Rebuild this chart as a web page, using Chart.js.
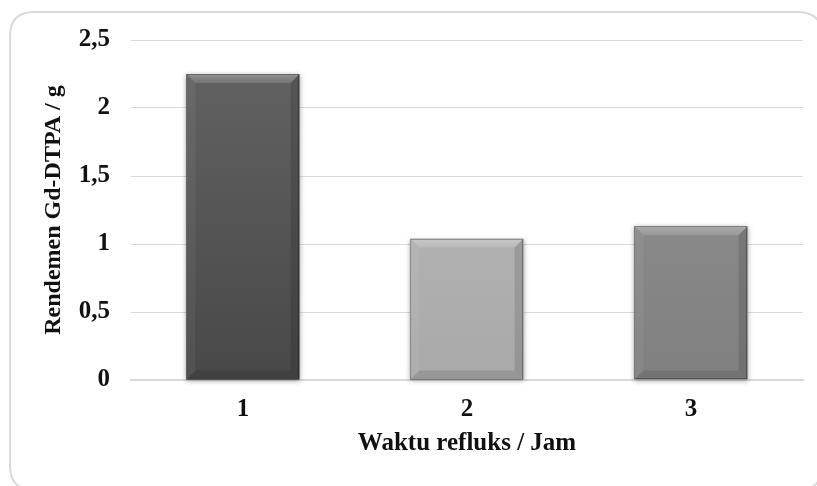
<!DOCTYPE html>
<html>
<head>
<meta charset="utf-8">
<script src="https://cdn.jsdelivr.net/npm/chart.js@4/dist/chart.umd.min.js"></script>
<style>
  html, body { margin: 0; padding: 0; background: #ffffff; }
  #wrap { width: 817px; height: 486px; position: relative; }
</style>
</head>
<body>
<div id="wrap"><canvas id="c" width="817" height="486"></canvas></div>
<script>
// Reflux time (hours) and Gd-DTPA yield (g)
const categories = ['1', '2', '3'];
const yields = [2.25, 1.04, 1.13];
const yTickValues = [0, 0.5, 1, 1.5, 2, 2.5];

// Bar fills: lighter top, darker bottom
const barTopColors = ['#646464', '#bcbcbc', '#939393'];
const barBottomColors = ['#484848', '#a9a9a9', '#808080'];

const serif = "'Liberation Serif', 'Times New Roman', serif";
const textFont = { family: serif, size: 25, weight: 'bold' };

function barGradient(ctx) {
  const chart = ctx.chart;
  const area = chart.chartArea;
  const i = ctx.dataIndex;
  if (!area || i === undefined) return barTopColors[0];
  const el = chart.getDatasetMeta(ctx.datasetIndex).data[i];
  const top = el && isFinite(el.y) ? el.y : area.top;
  const bottom = el && isFinite(el.base) ? el.base : area.bottom;
  const g = chart.ctx.createLinearGradient(0, top, 0, bottom);
  g.addColorStop(0, barTopColors[i]);
  g.addColorStop(1, barBottomColors[i]);
  return g;
}

// Rounded frame around the whole chart
const framePlugin = {
  id: 'frame',
  beforeDraw(chart) {
    const c = chart.ctx;
    c.save();
    c.strokeStyle = '#d9d9d9';
    c.lineWidth = 2;
    const x = 10, y = 12, w = 812, h = 478, r = 24;
    c.beginPath();
    c.moveTo(x + r, y);
    c.lineTo(x + w - r, y);
    c.quadraticCurveTo(x + w, y, x + w, y + r);
    c.lineTo(x + w, y + h - r);
    c.quadraticCurveTo(x + w, y + h, x + w - r, y + h);
    c.lineTo(x + r, y + h);
    c.quadraticCurveTo(x, y + h, x, y + h - r);
    c.lineTo(x, y + r);
    c.quadraticCurveTo(x, y, x + r, y);
    c.stroke();
    c.restore();
  }
};

// Soft shadow under each bar and a bevelled edge on top of it
const bevelPlugin = {
  id: 'bevel',
  beforeDatasetsDraw(chart) {
    const c = chart.ctx;
    const meta = chart.getDatasetMeta(0);
    c.save();
    meta.data.forEach((el) => {
      const w = el.width;
      c.shadowColor = 'rgba(0,0,0,0.35)';
      c.shadowBlur = 5;
      c.shadowOffsetX = 0;
      c.shadowOffsetY = 1;
      c.fillStyle = 'rgba(200,200,200,1)';
      c.fillRect(el.x - w / 2, el.y, w, el.base - el.y);
    });
    c.restore();
  },
  afterDatasetsDraw(chart) {
    const c = chart.ctx;
    const meta = chart.getDatasetMeta(0);
    meta.data.forEach((el) => {
      const l = el.x - el.width / 2, r = el.x + el.width / 2;
      const t = el.y, b = el.base;
      const s = 9;
      c.save();
      // top facet
      const gt = c.createLinearGradient(0, t, 0, t + s);
      gt.addColorStop(0, 'rgba(255,255,255,0.30)');
      gt.addColorStop(1, 'rgba(255,255,255,0.12)');
      c.fillStyle = gt;
      c.beginPath();
      c.moveTo(l, t); c.lineTo(r, t); c.lineTo(r - s, t + s); c.lineTo(l + s, t + s);
      c.closePath(); c.fill();
      // left facet
      c.fillStyle = 'rgba(255,255,255,0.05)';
      c.beginPath();
      c.moveTo(l, t); c.lineTo(l + s, t + s); c.lineTo(l + s, b - s); c.lineTo(l, b);
      c.closePath(); c.fill();
      // right facet
      c.fillStyle = 'rgba(0,0,0,0.12)';
      c.beginPath();
      c.moveTo(r, t); c.lineTo(r - s, t + s); c.lineTo(r - s, b - s); c.lineTo(r, b);
      c.closePath(); c.fill();
      // bottom facet
      c.fillStyle = 'rgba(0,0,0,0.10)';
      c.beginPath();
      c.moveTo(l, b); c.lineTo(l + s, b - s); c.lineTo(r - s, b - s); c.lineTo(r, b);
      c.closePath(); c.fill();
      // thin outline
      c.strokeStyle = 'rgba(0,0,0,0.28)';
      c.lineWidth = 1;
      c.strokeRect(Math.round(l) + 0.5, Math.round(t) + 0.5, Math.round(r - l) - 1, Math.round(b - t) - 1);
      c.restore();
    });
  }
};

new Chart(document.getElementById('c'), {
  type: 'bar',
  data: {
    labels: categories,
    datasets: [{
      data: yields,
      backgroundColor: barGradient,
      borderWidth: 0,
      barPercentage: 0.505,
      categoryPercentage: 1
    }]
  },
  options: {
    responsive: false,
    animation: false,
    devicePixelRatio: 1,
    layout: { padding: { left: 35, right: 14, top: 40, bottom: 23 } },
    plugins: {
      legend: { display: false },
      tooltip: { enabled: false }
    },
    scales: {
      x: {
        grid: { display: false, drawTicks: false },
        border: { display: true, color: '#d9d9d9', width: 2 },
        ticks: {
          padding: 15,
          color: '#111',
          font: textFont
        },
        title: {
          display: true,
          text: 'Waktu refluks / Jam',
          color: '#111',
          padding: { top: 4, bottom: 4 },
          font: textFont
        },
        afterFit(scale) { scale.height = 83; }
      },
      y: {
        min: 0,
        max: 2.5,
        grid: { color: '#d9d9d9', lineWidth: 1, drawTicks: false },
        border: { display: false },
        afterBuildTicks(scale) { scale.ticks = yTickValues.map(v => ({ value: v })); },
        ticks: {
          padding: 21,
          color: '#111',
          font: textFont,
          callback: (v) => String(v).replace('.', ',')
        },
        title: {
          display: true,
          text: 'Rendemen Gd-DTPA / g',
          color: '#111',
          padding: { top: 4, bottom: 4 },
          font: { family: serif, size: 24, weight: 'bold' }
        },
        afterFit(scale) { scale.width = 96; }
      }
    }
  },
  plugins: [framePlugin, bevelPlugin]
});
</script>
</body>
</html>
